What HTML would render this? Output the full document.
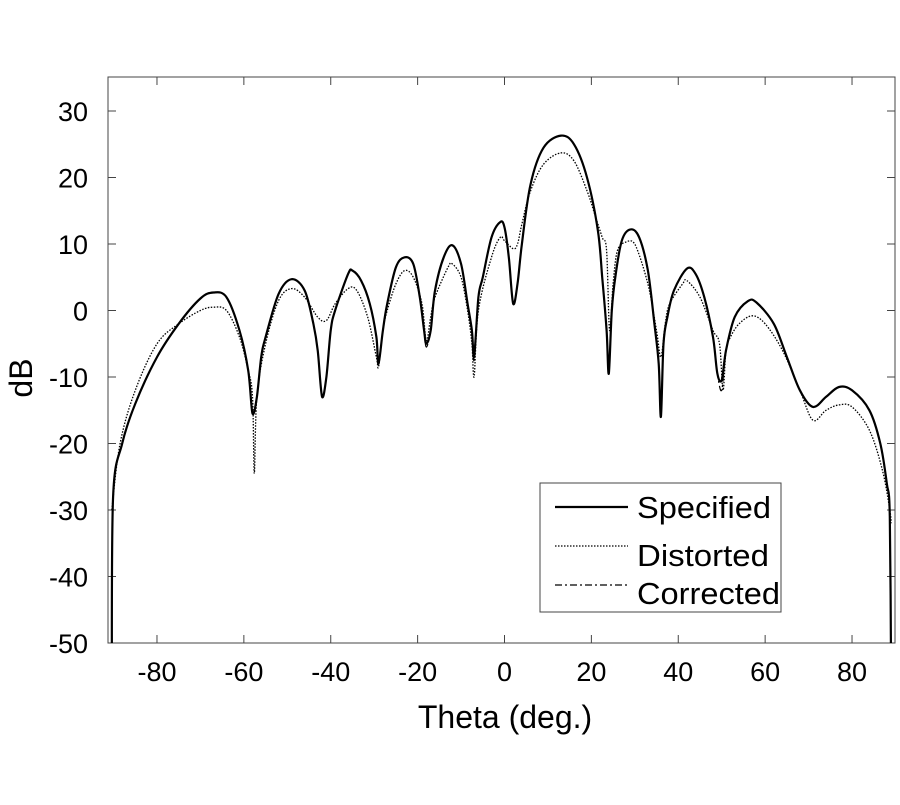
<!DOCTYPE html>
<html><head><meta charset="utf-8"><style>
body{margin:0;background:#fff}
svg text{font-family:"Liberation Sans",Arial,sans-serif;fill:#000}
</style></head><body>
<svg id="s" width="900" height="800" xmlns="http://www.w3.org/2000/svg">
<defs><clipPath id="cp"><rect x="108" y="77" width="787" height="566"/></clipPath></defs>
<rect x="108" y="77" width="787" height="566" fill="none" stroke="#444" stroke-width="1"/>
<g id="ticks" stroke="#444" stroke-width="1"></g>
<g id="labels" font-size="27"></g>
<g id="curves" fill="none" clip-path="url(#cp)"></g>
<text x="32" y="378" font-size="32" text-anchor="middle" transform="rotate(-90 32 378)">dB</text>
<text x="505" y="728" font-size="32" text-anchor="middle">Theta (deg.)</text>
<rect x="540" y="483" width="241" height="129" fill="#fff" stroke="#444" stroke-width="1"/>
<line x1="555" y1="507" x2="628" y2="507" stroke="#000" stroke-width="2.2"/>
<line x1="555" y1="546" x2="628" y2="546" stroke="#000" stroke-width="1.3" stroke-dasharray="1.5,1.5"/>
<line x1="555" y1="585" x2="628" y2="585" stroke="#000" stroke-width="1.3" stroke-dasharray="7,3,2,3"/>
<text x="637" y="518" font-size="31" textLength="134" lengthAdjust="spacingAndGlyphs">Specified</text>
<text x="637" y="566" font-size="31" textLength="132" lengthAdjust="spacingAndGlyphs">Distorted</text>
<text x="637" y="604" font-size="31" textLength="143" lengthAdjust="spacingAndGlyphs">Corrected</text>
</svg>
<script>
var X=function(d){return 504.5+d*4.344},Y=function(v){return 111+(30-v)*6.65};
var t=document.getElementById('ticks'),l=document.getElementById('labels'),ns='http://www.w3.org/2000/svg';
function el(p,n,a,txt){var e=document.createElementNS(ns,n);for(var k in a)e.setAttribute(k,a[k]);if(txt!=null)e.textContent=txt;p.appendChild(e);return e}
for(var d=-80;d<=80;d+=20){var x=X(d);el(t,'line',{x1:x,y1:643,x2:x,y2:635});el(t,'line',{x1:x,y1:77,x2:x,y2:85});el(l,'text',{x:x,y:681,'text-anchor':'middle'},d)}
for(var v=-50;v<=30;v+=10){var y=Y(v);el(t,'line',{x1:108,y1:y,x2:116,y2:y});el(t,'line',{x1:895,y1:y,x2:887,y2:y});el(l,'text',{x:88,y:y+10,'text-anchor':'end'},v)}
var spec=[[-90.4,-55],[-90.1,-28],[-88,-20],[-85,-14],[-80,-7],[-75,-2],[-70,1.8],[-67,2.7],[-64,2],[-61,-3],[-59,-9],[-58,-15.5],[-57,-13],[-56,-7],[-55,-4],[-52,2.5],[-49,4.7],[-46,3],[-44,-2],[-43,-6],[-42,-13],[-41,-10],[-40,-3],[-39,0],[-36,5.5],[-35,6],[-33,4.5],[-31,1],[-29.5,-4],[-29,-8],[-28,-3],[-27,1],[-25,6.5],[-23,8],[-21,7],[-19.5,2],[-18.5,-3],[-18,-5],[-17,-3],[-16,3],[-14,8],[-12,9.8],[-10,7],[-8.5,1],[-7.5,-3],[-7,-7],[-6,2],[-5,5],[-3,11],[-1,13.3],[0,12.5],[1,8],[2,1],[3,4],[4,10],[6,19],[9,24.5],[13,26.3],[16,25],[19,20],[21.5,12],[22.5,5],[23.5,-3],[24,-9.5],[24.7,0],[25.5,5],[27,10.5],[29,12.2],[31,11],[33,6],[34.5,-2],[35.5,-8],[36,-16],[36.6,-5],[37.5,-1],[39,3],[42,6.3],[44,5.5],[46,2],[48,-4],[49,-9.5],[50,-10.5],[51,-6],[53,-1],[56,1.4],[58,1.2],[62,-2],[65,-7],[68,-12],[71,-14.5],[74,-13],[77,-11.5],[80,-12],[84,-15],[86.5,-20],[88,-26],[88.7,-31],[89,-55]];
var dist=[[-90.4,-30],[-88.5,-20],[-85,-12],[-80,-5],[-75,-2],[-70,0],[-67,0.5],[-64,0],[-61,-4],[-59,-9],[-58,-13],[-57.6,-24.5],[-57,-13],[-55,-5],[-52,1.5],[-49,3.3],[-46,2],[-43,-1],[-41,-1.5],[-39,1],[-36,3.3],[-34,3],[-31.5,-1],[-29.5,-7],[-29,-8.5],[-28,-3],[-27,0],[-25,4],[-23,6],[-21,5],[-19,1],[-18,-4.5],[-17,-1],[-16,2],[-13,6.5],[-12,7],[-10,5],[-8.5,0],[-7.5,-5],[-7,-10],[-6,0],[-3,8],[-1,11],[0,10.5],[2,9.3],[3,10],[4,13],[6,18],[9,22],[13,23.7],[16,22.5],[19,18],[21,14],[22.5,11],[23.5,9],[24.2,-3],[25,4],[26,9],[28,10.3],[30,10],[33,4],[35,-3],[36,-7],[37,-2],[38,1],[41,4],[42,4.5],[45,2],[48,-3],[49.5,-5],[50.3,-12],[51,-6],[52,-4],[54,-2],[57,-0.8],[60,-2],[64,-6],[68,-12],[71,-16.5],[74,-15],[77,-14.2],[80,-14.5],[84,-18],[87,-24],[88.7,-30],[89,-32]];
var corr=spec.map(function(p){var v=p[1];if(p[0]==-18)v=-5.5;if(p[0]==50)v=-12;if(p[0]==-7)v=-7.5;return [p[0],v]});
function path(pts){var s='M'+X(pts[0][0]).toFixed(1)+' '+Y(pts[0][1]).toFixed(1);
for(var i=0;i<pts.length-1;i++){var p0=pts[Math.max(0,i-1)],p1=pts[i],p2=pts[i+1],p3=pts[Math.min(pts.length-1,i+2)];
var a=[X(p0[0]),Y(p0[1])],b=[X(p1[0]),Y(p1[1])],c=[X(p2[0]),Y(p2[1])],d=[X(p3[0]),Y(p3[1])];
var c1=[b[0]+(c[0]-a[0])/6,b[1]+(c[1]-a[1])/6],c2=[c[0]-(d[0]-b[0])/6,c[1]-(d[1]-b[1])/6];
c1[1]=Math.max(Math.min(c1[1],Math.max(b[1],c[1])+3),Math.min(b[1],c[1])-3);c2[1]=Math.max(Math.min(c2[1],Math.max(b[1],c[1])+3),Math.min(b[1],c[1])-3);
s+=' C'+c1[0].toFixed(1)+' '+c1[1].toFixed(1)+' '+c2[0].toFixed(1)+' '+c2[1].toFixed(1)+' '+c[0].toFixed(1)+' '+c[1].toFixed(1)}return s}
var g=document.getElementById('curves');
el(g,'path',{d:path(dist),stroke:'#000','stroke-width':1.3,'stroke-dasharray':'1.5,1.5'});
el(g,'path',{d:path(spec),stroke:'#000','stroke-width':2.2});
el(g,'path',{d:path(corr),stroke:'#000','stroke-width':1.2,'stroke-dasharray':'7,3,2,3'});
</script>
</body></html>
